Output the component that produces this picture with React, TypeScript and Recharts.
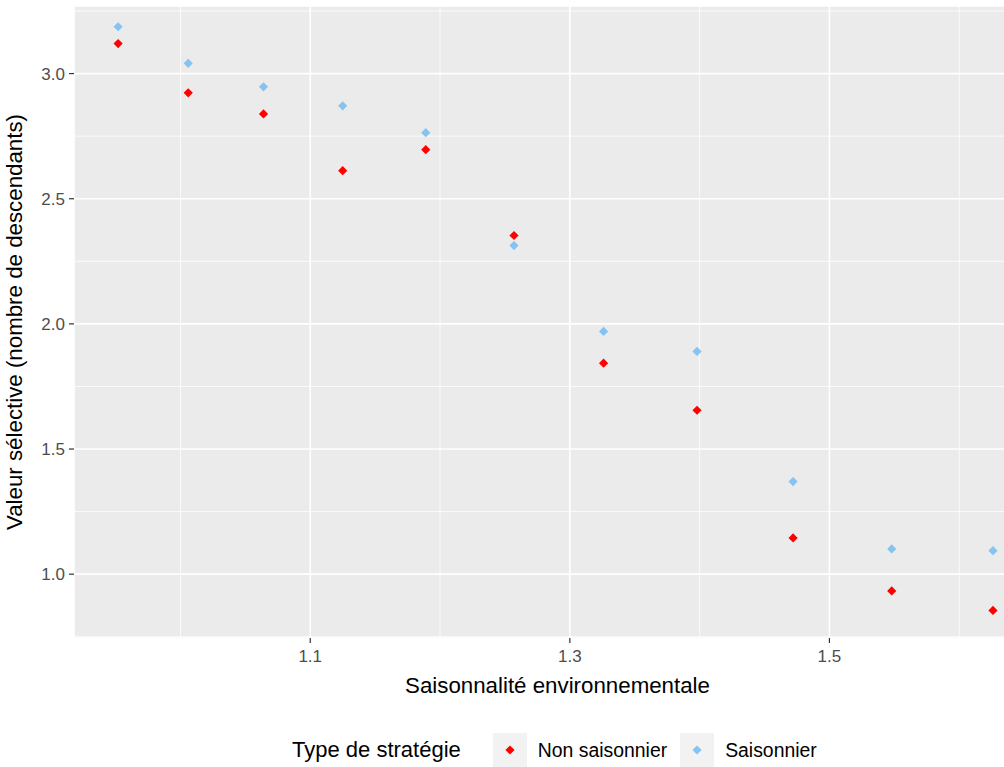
import { CartesianGrid, ReferenceLine, Scatter, ScatterChart, XAxis, YAxis } from 'recharts'

const saisonnalite = [0.952, 1.006, 1.064, 1.125, 1.189, 1.257, 1.326, 1.398, 1.472, 1.548, 1.626]
const nonSaisonnier = [3.12, 2.923, 2.839, 2.612, 2.696, 2.353, 1.843, 1.655, 1.145, 0.933, 0.855]
const saisonnier = [3.187, 3.041, 2.947, 2.871, 2.764, 2.313, 1.97, 1.89, 1.37, 1.101, 1.094]

const seriesNames = ['Non saisonnier', 'Saisonnier']
const seriesColors = ['#FF0000', '#85C3F2']

const xTicks = [1.1, 1.3, 1.5]
const yTicks = [1.0, 1.5, 2.0, 2.5, 3.0]
const xMinor = [1.0, 1.2, 1.4, 1.6]
const yMinor = [0.75, 1.25, 1.75, 2.25, 2.75, 3.25]

const FONT = '"Liberation Sans", Arial, sans-serif'

const redData = saisonnalite.map((x, i) => ({ x, y: nonSaisonnier[i] }))
const blueData = saisonnalite.map((x, i) => ({ x, y: saisonnier[i] }))

function Diamond(props: any) {
  const { cx, cy, fill } = props
  const r = 4.6
  return (
    <polygon
      points={`${cx},${cy - r} ${cx + r},${cy} ${cx},${cy + r} ${cx - r},${cy}`}
      fill={fill}
    />
  )
}

export default function App() {
  return (
    <div
      style={{
        position: 'absolute',
        left: 0,
        top: 0,
        width: 1004,
        height: 767,
        overflow: 'hidden',
        background: '#fff',
        fontFamily: FONT,
      }}
    >
      <ScatterChart width={1050} height={767} margin={{ top: 6, right: 9, left: 0, bottom: 0 }}>
        <CartesianGrid fill='#EBEBEB' stroke='#FFFFFF' strokeWidth={1.6} />
        {xMinor.map((v) => (
          <ReferenceLine key={'x' + v} x={v} stroke='#FFFFFF' strokeWidth={0.8} ifOverflow='hidden' />
        ))}
        {yMinor.map((v) => (
          <ReferenceLine key={'y' + v} y={v} stroke='#FFFFFF' strokeWidth={0.8} ifOverflow='hidden' />
        ))}
        <XAxis
          type='number'
          dataKey='x'
          domain={[0.918, 1.663]}
          allowDataOverflow
          ticks={xTicks}
          tickFormatter={(v) => v.toFixed(1)}
          height={129}
          axisLine={false}
          tickLine={{ stroke: '#333333', strokeWidth: 1.2 }}
          tickSize={5}
          tickMargin={7}
          tick={{ fill: '#4D4D4D', fontSize: 17, fontFamily: FONT }}
          label={{
            value: 'Saisonnalité environnementale',
            position: 'insideTop',
            offset: 39,
            fill: '#000000',
            fontSize: 22.3,
            fontFamily: FONT,
          }}
        />
        <YAxis
          type='number'
          dataKey='y'
          domain={[0.745, 3.27]}
          allowDataOverflow
          ticks={yTicks}
          tickFormatter={(v) => v.toFixed(1)}
          width={74}
          axisLine={false}
          tickLine={{ stroke: '#333333', strokeWidth: 1.2 }}
          tickSize={5}
          tickMargin={4}
          tick={{ fill: '#4D4D4D', fontSize: 17, fontFamily: FONT }}
          label={{
            value: 'Valeur sélective (nombre de descendants)',
            angle: -90,
            position: 'insideLeft',
            offset: 14,
            fill: '#000000',
            fontSize: 22.3,
            fontFamily: FONT,
            style: { textAnchor: 'middle' },
          }}
        />
        <Scatter name={seriesNames[0]} data={redData} fill={seriesColors[0]} shape={Diamond} isAnimationActive={false} />
        <Scatter name={seriesNames[1]} data={blueData} fill={seriesColors[1]} shape={Diamond} isAnimationActive={false} />
      </ScatterChart>
      <div
        style={{
          position: 'absolute',
          left: 292,
          top: 733,
          height: 34,
          display: 'flex',
          alignItems: 'center',
          color: '#000',
        }}
      >
        <span style={{ fontSize: 22, marginRight: 32 }}>Type de stratégie</span>
        {seriesNames.map((name, i) => (
          <div key={name} style={{ display: 'flex', alignItems: 'center', marginRight: 13 }}>
            <div
              style={{
                width: 34,
                height: 34,
                background: '#F2F2F2',
                display: 'flex',
                alignItems: 'center',
                justifyContent: 'center',
              }}
            >
              <svg width={10} height={10}>
                <polygon points='5,0.4 9.6,5 5,9.6 0.4,5' fill={seriesColors[i]} />
              </svg>
            </div>
            <span style={{ fontSize: 19.4, marginLeft: 11 }}>{name}</span>
          </div>
        ))}
      </div>
    </div>
  )
}
